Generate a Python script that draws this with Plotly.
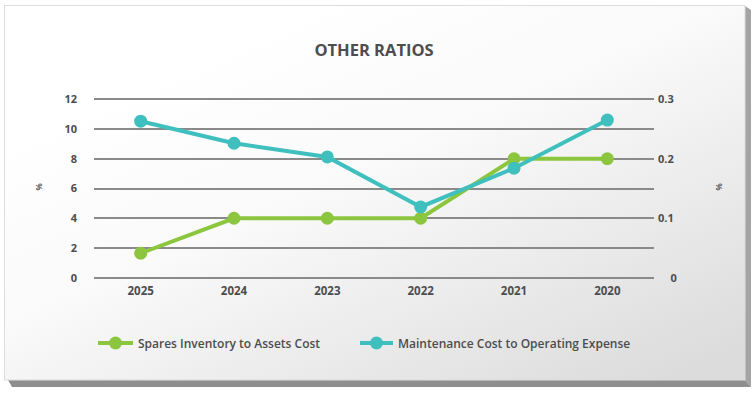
import base64
import plotly.graph_objects as go

# ---- data ----
years = ["2025", "2024", "2023", "2022", "2021", "2020"]
spares_inventory = [1.65, 4.0, 4.0, 4.0, 8.0, 8.0]          # left axis (%)
maintenance_cost = [0.263, 0.226, 0.203, 0.119, 0.184, 0.265]  # right axis (%)
left_ticks = [0, 2, 4, 6, 8, 10, 12]
right_ticks = [0, 0.1, 0.2, 0.3]
right_tick_labels = ["\u2007\u20070", "0.1", "0.2", "0.3"]

GREEN = "#8cc63f"
TEAL = "#3fbfbd"
TXT = "#4d4d4d"
FONT = "Open Sans"

W, H = 756, 393
L, R, T, B = 94, 102, 98, 114
PW, PH = W - L - R, H - T - B

def px(x):
    return (x - L) / PW

def py(y):
    return (H - B - y) / PH

PADL = 0.08  # small padding so edge gridlines render
svg = f"""<svg xmlns='http://www.w3.org/2000/svg' width='{W}' height='{H}' viewBox='0 0 {W} {H}' preserveAspectRatio='none'>
<defs><linearGradient id='g' x1='0.3' y1='0.1' x2='1' y2='0.9'>
<stop offset='0' stop-color='#ffffff'/><stop offset='0.35' stop-color='#fafafa'/><stop offset='1' stop-color='#dcdcdc'/>
</linearGradient></defs>
<polygon points='8,380 745,380 751,387 12,387' fill='#8e8e8e'/>
<polygon points='745,6 751,10 751,387 745,380' fill='#a4a4a4'/>
<rect x='4.5' y='5.5' width='740.5' height='374.5' fill='url(#g)' stroke='#dddddd' stroke-width='1'/>
</svg>"""
src = "data:image/svg+xml;base64," + base64.b64encode(svg.encode()).decode()

fig = go.Figure()
fig.add_trace(go.Scatter(
    x=years, y=spares_inventory, name="Spares Inventory to Assets Cost",
    mode="lines+markers", line=dict(color=GREEN, width=4),
    marker=dict(color=GREEN, size=13), yaxis="y", cliponaxis=False, legend="legend"))
fig.add_trace(go.Scatter(
    x=years, y=maintenance_cost, name="Maintenance Cost to Operating Expense",
    mode="lines+markers", line=dict(color=TEAL, width=4),
    marker=dict(color=TEAL, size=13), yaxis="y2", cliponaxis=False, legend="legend2"))

legend_font = dict(size=12, family=FONT, color=TXT, weight=600)

fig.update_layout(
    width=W, height=H,
    margin=dict(l=L, r=R, t=T, b=B, pad=0),
    paper_bgcolor="white", plot_bgcolor="rgba(0,0,0,0)",
    font=dict(family=FONT, color=TXT),
    title=dict(text="<b>OTHER RATIOS</b>", x=0.5, xref="paper", xanchor="center",
               y=1 - 50 / H, yref="container", yanchor="middle",
               font=dict(family=FONT, size=16.5, color=TXT)),
    xaxis=dict(type="category", range=[-0.5, 5.5], showgrid=False, zeroline=False,
               showline=False, ticks="", tickfont=dict(size=11.5, family=FONT, color=TXT, weight="bold"),
               ticklabelstandoff=3),
    yaxis=dict(range=[-PADL, 12 + PADL], tickvals=left_ticks, showgrid=True, gridcolor="#8a8a8a",
               gridwidth=1.5, zeroline=False, showline=False, ticks="",
               tickfont=dict(size=11, family=FONT, color=TXT, weight="bold"), ticklabelstandoff=16),
    yaxis2=dict(range=[-PADL / 40, 0.3 + PADL / 40], tickvals=right_ticks, ticktext=right_tick_labels,
                overlaying="y", side="right", showgrid=False, zeroline=False, showline=False,
                ticks="", tickfont=dict(size=11, family=FONT, color=TXT, weight="bold"),
                ticklabelstandoff=3),
    legend=dict(orientation="h", x=px(93), xanchor="left", y=py(343), yanchor="middle",
                bgcolor="rgba(0,0,0,0)", font=legend_font, itemwidth=35),
    legend2=dict(orientation="h", x=px(355), xanchor="left", y=py(343), yanchor="middle",
                 bgcolor="rgba(0,0,0,0)", font=legend_font, itemwidth=33),
    images=[dict(source=src, xref="paper", yref="paper", x=px(0), y=py(0),
                 sizex=W / PW, sizey=H / PH, sizing="stretch", xanchor="left",
                 yanchor="top", layer="below")],
    annotations=[
        dict(text="%", x=px(30), y=py(187), xref="paper", yref="paper", showarrow=False,
             textangle=-90, font=dict(size=8, color="#666", family=FONT, weight="bold")),
        dict(text="%", x=px(725), y=py(187), xref="paper", yref="paper", showarrow=False,
             textangle=-90, font=dict(size=8, color="#666", family=FONT, weight="bold")),
    ],
    showlegend=True,
)

fig.write_html("out.html", config={"displayModeBar": False},
               post_script="document.body.style.margin='0';document.body.style.overflow='hidden';")
